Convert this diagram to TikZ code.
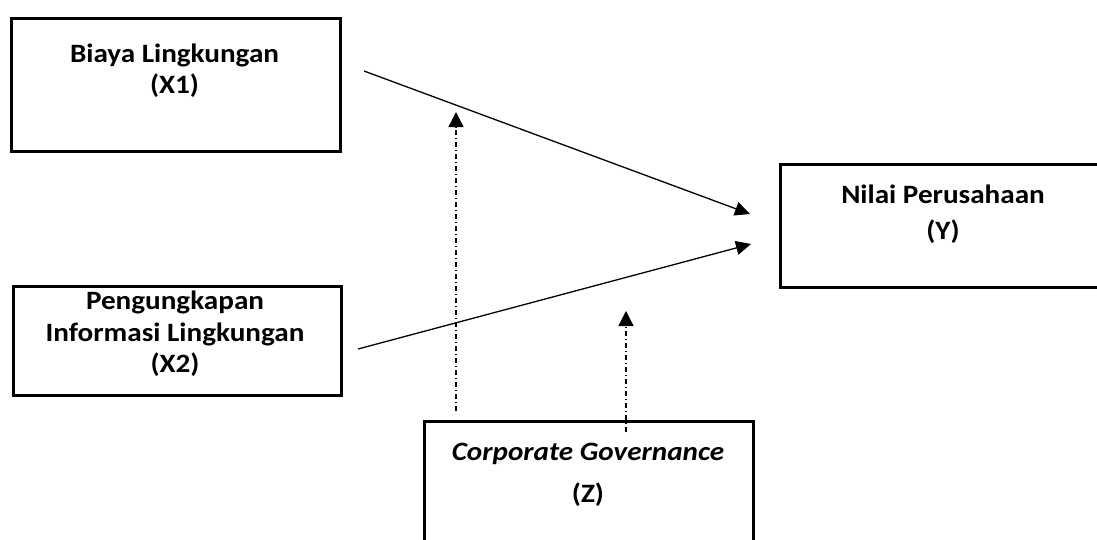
\documentclass[tikz,border=0pt]{standalone}
\usepackage{fontspec}
\setmainfont{Carlito}[FakeStretch=1.1]
\usetikzlibrary{arrows.meta}
\begin{document}
\begin{tikzpicture}[x=1pt,y=-1pt,
  box/.style={draw, line width=2.5pt, anchor=north west, inner sep=0pt},
  lbl/.style={font=\bfseries\fontsize{26.5}{32}\selectfont, anchor=base, inner sep=0pt},
  conn/.style={line width=1.3pt, -{Triangle[length=15pt,width=14pt]}},
  modline/.style={line width=1.3pt, dash pattern=on 5pt off 3pt on 1pt off 3pt, -{Triangle[length=15pt,width=15pt]}}
]
\useasboundingbox (0,0) rectangle (1097,539);
\fill[white] (0,0) rectangle (1097,539);
\clip (0,0) rectangle (1097,539);
% boxes
\node[box, minimum width=329pt, minimum height=133pt] (x1) at (10,17) {};
\node[box, minimum width=328pt, minimum height=109pt] (x2) at (12,285) {};
\node[box, minimum width=328pt, minimum height=123pt] (y) at (779,163) {};
\node[box, minimum width=329pt, minimum height=140pt] (z) at (423,420) {};
% labels
\node[lbl] (x1a) at (174.5,62) {Biaya Lingkungan};
\node[lbl] (x1b) at (174.5,93) {(X1)};
\node[lbl] (x2a) at (175,309) {Pengungkapan};
\node[lbl] (x2b) at (175,341) {Informasi Lingkungan};
\node[lbl] (x2c) at (175,372) {(X2)};
\node[lbl] (ya) at (943,203) {Nilai Perusahaan};
\node[lbl] (yb) at (943,239) {(Y)};
\node[lbl] (za) at (588,460) {\itshape Corporate Governance};
\node[lbl] (zb) at (588,502) {(Z)};
% connector ends
\coordinate (x1out) at (364,71);
\coordinate (yin1) at (750,214);
\coordinate (x2out) at (358,349);
\coordinate (yin2) at (751,244);
\coordinate (m1s) at (456,411);
\coordinate (m1e) at (456,112);
\coordinate (m2s) at (626,432);
\coordinate (m2e) at (626,311);
\draw[conn] (x1out) -- (yin1);
\draw[conn] (x2out) -- (yin2);
\draw[modline] (m1s) -- (m1e);
\draw[modline] (m2s) -- (m2e);
\end{tikzpicture}
\end{document}
